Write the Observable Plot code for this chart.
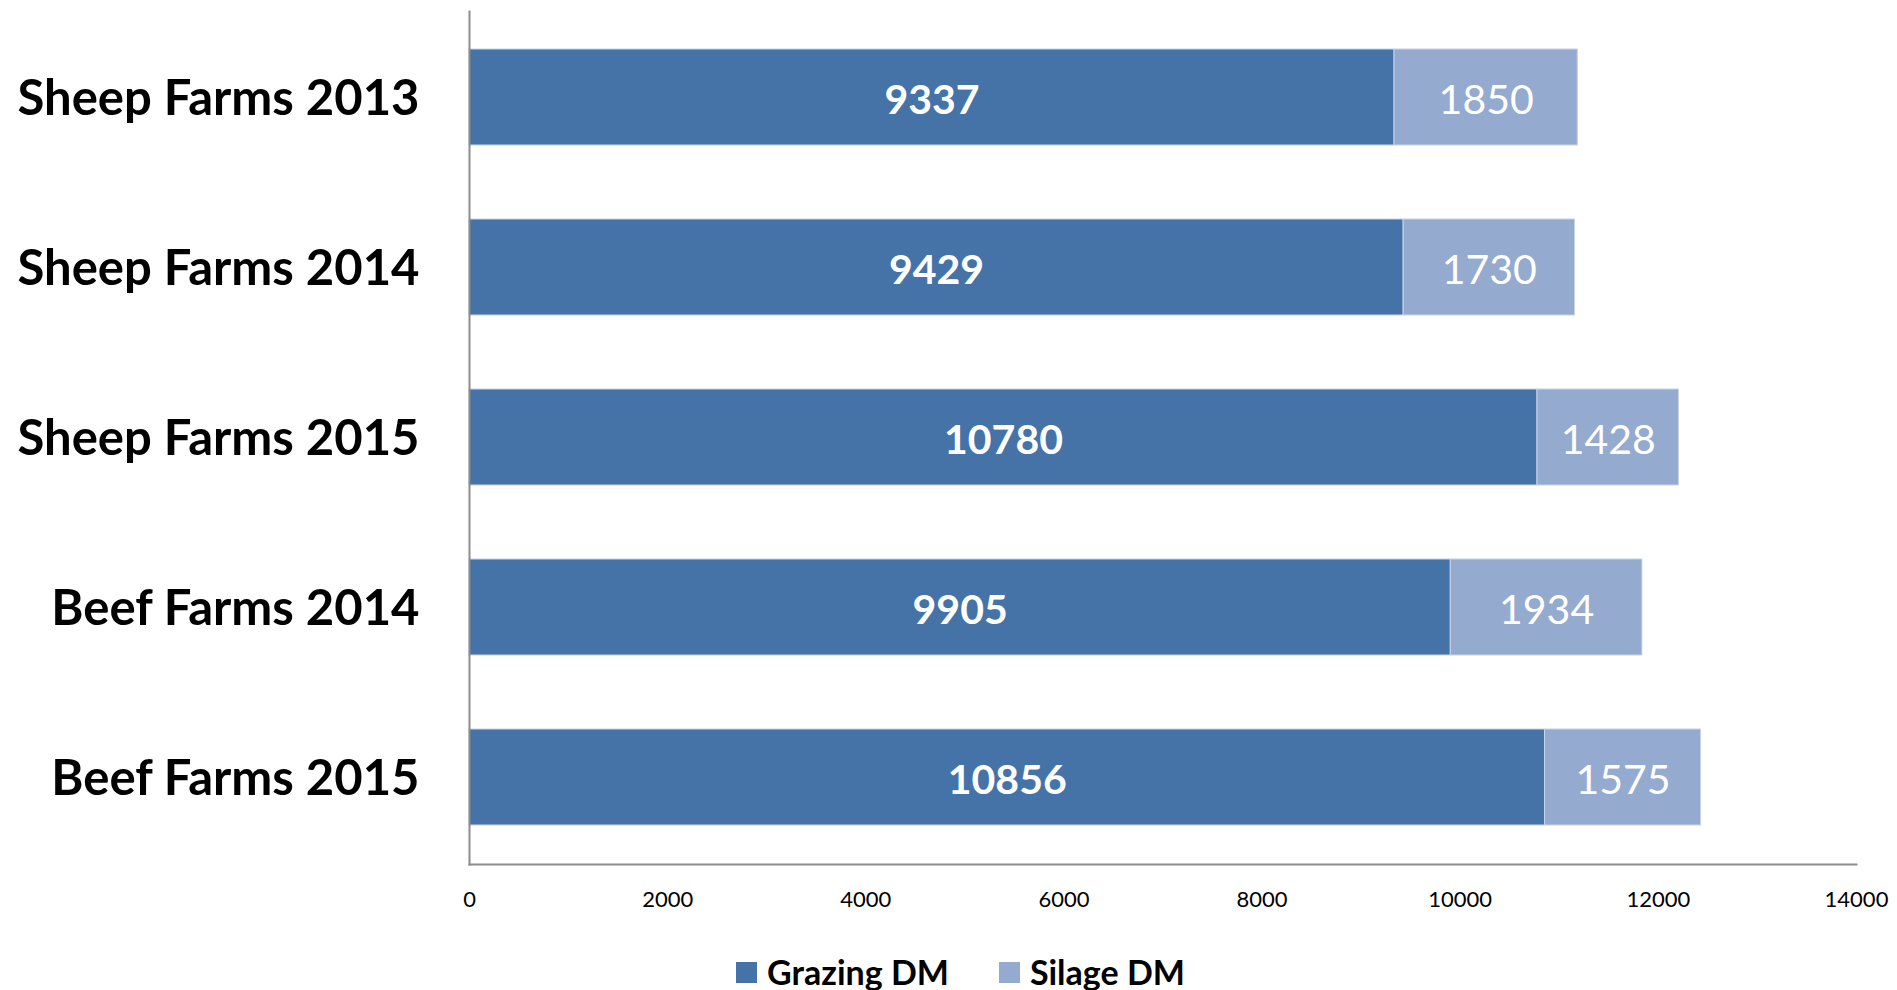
<!DOCTYPE html>
<html>
<head>
<meta charset="utf-8">
<script src="https://cdn.jsdelivr.net/npm/d3@7"></script>
<script src="https://cdn.jsdelivr.net/npm/@observablehq/plot@0.6"></script>
<style>
  html, body { margin: 0; padding: 0; background: #fff; }
  body { width: 1897px; height: 990px; overflow: hidden; font-family: Lato, "Open Sans", sans-serif; }
  #legend { display: flex; justify-content: center; align-items: center; gap: 0; margin-left: 24px; padding-top: 14px; font-weight: bold; font-size: 34px; line-height: 36px; color: #000; }
  .item { display: flex; align-items: center; margin: 0 25px; }
  .sw { width: 21px; height: 21px; margin-right: 10px; }
</style>
</head>
<body>
<div id="chart"></div>
<div id="legend"></div>
<script>
const farms = ["Sheep Farms 2013", "Sheep Farms 2014", "Sheep Farms 2015", "Beef Farms 2014", "Beef Farms 2015"];
const grazing = [9337, 9429, 10780, 9905, 10856];
const silage = [1850, 1730, 1428, 1934, 1575];
const seriesNames = ["Grazing DM", "Silage DM"];
const seriesColors = ["#4573a7", "#95aacf"];
const xTicks = [0, 2000, 4000, 6000, 8000, 10000, 12000, 14000];

const data = [];
farms.forEach((f, i) => {
  data.push({farm: f, series: seriesNames[0], value: grazing[i]});
  data.push({farm: f, series: seriesNames[1], value: silage[i]});
});

const font = "Lato, 'Open Sans', sans-serif";

const plot = Plot.plot({
  width: 1897,
  height: 940,
  marginLeft: 469,
  marginRight: 41,
  marginTop: 11,
  marginBottom: 76,
  style: {fontFamily: font, background: "#fff"},
  x: {domain: [0, 14000], ticks: xTicks, label: null},
  y: {domain: farms, paddingInner: 0.433, paddingOuter: 0.216, label: null},
  color: {domain: seriesNames, range: seriesColors},
  marks: [
    Plot.barX(data, Plot.stackX({x: "value", y: "farm", z: "series", fill: "series", order: seriesNames, stroke: "#c8d4e8", strokeWidth: 1})),
    Plot.text(data, Plot.stackX({x: "value", y: "farm", z: "series", order: seriesNames,
      text: d => d.series === seriesNames[0] ? String(d.value) : "",
      fill: "white", fontSize: 41, fontWeight: "bold", dy: 3})),
    Plot.text(data, Plot.stackX({x: "value", y: "farm", z: "series", order: seriesNames,
      text: d => d.series === seriesNames[1] ? String(d.value) : "",
      fill: "white", fontSize: 41, fontWeight: "normal", dy: 3})),
    Plot.axisX({ticks: xTicks, tickSize: 0, tickPadding: 27, fontSize: 22, tickFormat: d => String(d), fill: "#000", label: null}),
    Plot.axisY({tickSize: 0, tickPadding: 50, fontSize: 49, fontWeight: "bold", fill: "#000", label: null, dy: 2}),
    Plot.frame({anchor: "left", stroke: "#8c8c8c", strokeWidth: 2, strokeOpacity: 1}),
    Plot.frame({anchor: "bottom", stroke: "#8c8c8c", strokeWidth: 2, strokeOpacity: 1})
  ]
});
document.getElementById("chart").appendChild(plot);

const legend = document.getElementById("legend");
seriesNames.forEach((s, i) => {
  const item = document.createElement("div");
  item.className = "item";
  const sw = document.createElement("div");
  sw.className = "sw";
  sw.style.background = seriesColors[i];
  const t = document.createElement("span");
  t.textContent = s;
  item.appendChild(sw);
  item.appendChild(t);
  legend.appendChild(item);
});
</script>
</body>
</html>
